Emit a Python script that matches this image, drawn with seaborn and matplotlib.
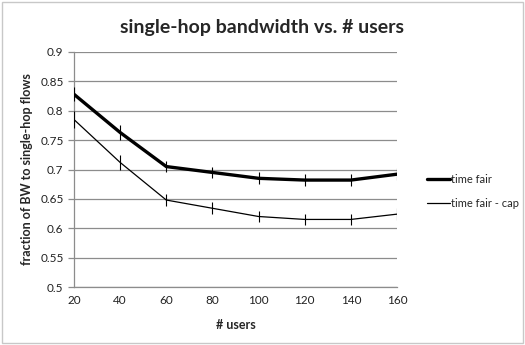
import matplotlib
matplotlib.use('Agg')
import matplotlib.pyplot as plt
import seaborn as sns
import pandas as pd
from matplotlib.patches import Rectangle

# Data
users = [20, 40, 60, 80, 100, 120, 140, 160]
time_fair = [0.828, 0.763, 0.705, 0.695, 0.685, 0.682, 0.682, 0.692]
time_fair_err = [0.012, 0.012, 0.01, 0.01, 0.01, 0.01, 0.01, 0.01]
time_fair_cap = [0.785, 0.712, 0.648, 0.634, 0.620, 0.615, 0.615, 0.624]
time_fair_cap_err = [0.014, 0.012, 0.01, 0.01, 0.01, 0.01, 0.01, 0.01]
y_ticks = [0.5, 0.55, 0.6, 0.65, 0.7, 0.75, 0.8, 0.85, 0.9]
y_tick_labels = ['0.5', '0.55', '0.6', '0.65', '0.7', '0.75', '0.8', '0.85', '0.9']

sns.set_theme(style='white')
plt.rcParams['font.family'] = ['Lato', 'DejaVu Sans']

fig = plt.figure(figsize=(5.25, 3.45), dpi=100)
ax = fig.add_axes([74 / 525, 1 - 287 / 345, (397 - 74) / 525, (287 - 52) / 345])

# outer chart border
fig.patches.append(Rectangle((0.004, 0.006), 0.992, 0.988, transform=fig.transFigure,
                             fill=False, edgecolor='#c8c8c8', linewidth=1))

df = pd.DataFrame({'users': users * 2,
                   'value': time_fair + time_fair_cap,
                   'series': ['time fair'] * len(users) + ['time fair - cap'] * len(users)})

sns.lineplot(data=df, x='users', y='value', hue='series', size='series',
             sizes={'time fair': 2.4, 'time fair - cap': 0.9},
             palette={'time fair': 'black', 'time fair - cap': 'black'},
             ax=ax, zorder=3)
ax.errorbar(users, time_fair, yerr=time_fair_err, fmt='none', ecolor='black',
            elinewidth=0.8, capsize=0, zorder=4)
ax.errorbar(users, time_fair_cap, yerr=time_fair_cap_err, fmt='none', ecolor='black',
            elinewidth=0.8, capsize=0, zorder=4)

ax.set_xlim(20, 160)
ax.set_ylim(0.5, 0.9)
ax.set_xticks(users)
ax.set_yticks(y_ticks)
ax.set_yticklabels(y_tick_labels)
ax.grid(axis='y', color='#8c8c8c', linewidth=0.9)
ax.set_axisbelow(True)
for s in ['top', 'right']:
    ax.spines[s].set_visible(False)
for s in ['left', 'bottom']:
    ax.spines[s].set_color('#8c8c8c')
    ax.spines[s].set_linewidth(0.9)
ax.tick_params(axis='both', labelsize=8.5, colors='#8c8c8c', labelcolor='#222222',
               length=4, width=0.9, direction='out', left=True, bottom=True)
ax.tick_params(axis='x', length=0, pad=6)

ax.set_xlabel('# users', fontsize=9, fontweight='bold', labelpad=9)
ax.set_ylabel('fraction of BW to single-hop flows', fontsize=9, fontweight='bold', labelpad=5)
fig.text(0.5, 1 - 27 / 345, 'single-hop bandwidth vs. # users', ha='center', va='center',
         fontsize=14, fontweight='bold')

handles, labels = ax.get_legend_handles_labels()
ax.legend(handles, labels, loc='center left', bbox_to_anchor=(1.093, 0.406),
          frameon=False, fontsize=8, handlelength=2.1, handletextpad=0.1,
          labelspacing=1.2, borderaxespad=0, borderpad=0)

fig.savefig('out.png', dpi=100)
